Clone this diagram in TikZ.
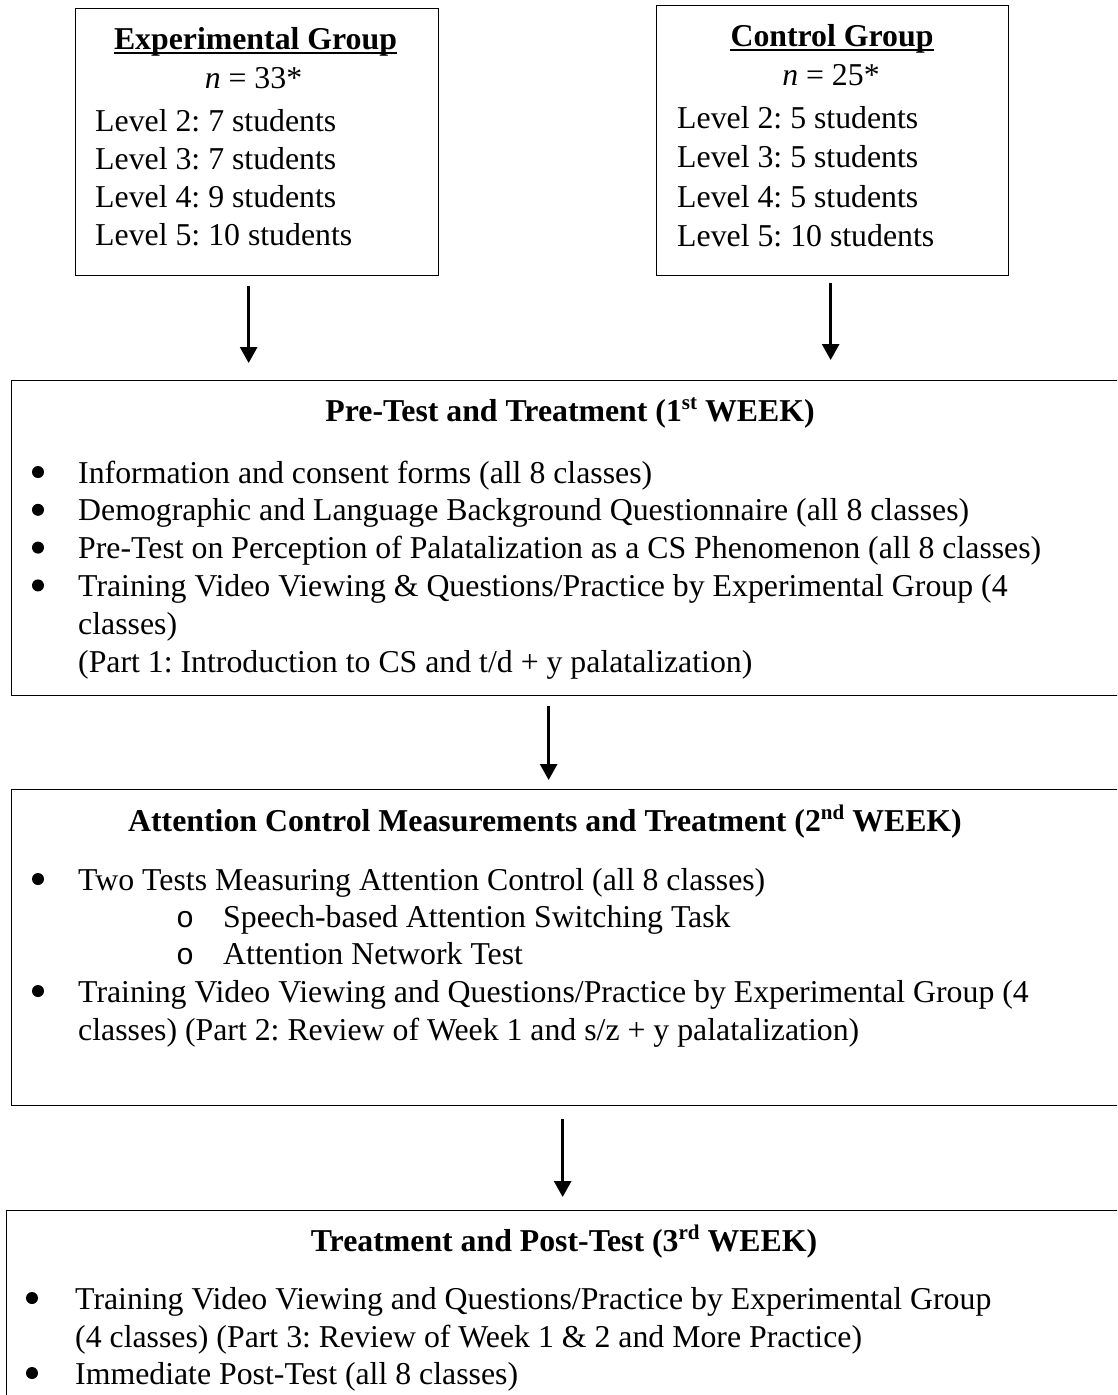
\documentclass[tikz,border=0pt]{standalone}
\usepackage{fontspec}
\setmainfont{Liberation Serif}
\newfontfamily\monofam{Liberation Mono}
\usetikzlibrary{arrows.meta}
\newcommand\bodyfont{\fontsize{31.8pt}{38pt}\selectfont\frenchspacing}
\newcommand\supr[1]{\raisebox{0.36em}{\fontsize{21pt}{21pt}\selectfont #1}}

\tikzset{
  frame/.style={draw=black, line width=1.3pt, inner sep=0pt, anchor=north west},
  txt/.style={inner sep=0pt, anchor=base west, font=\bodyfont},
  ctr/.style={inner sep=0pt, anchor=base, font=\bodyfont},
  ttl/.style={inner sep=0pt, anchor=base, font=\bodyfont\bfseries},
  dot/.style={circle, fill=black, inner sep=0pt, minimum size=12pt, yshift=11pt},
  subblt/.style={inner sep=0pt, anchor=base, font=\fontsize{30pt}{36pt}\monofam},
  uline/.style={line width=2pt},
  arr/.style={line width=3pt, -{Triangle[width=17pt,length=16pt]}}
}

\begin{document}
\begin{tikzpicture}[x=1pt,y=1pt]
\useasboundingbox (0,0) rectangle (1117,-1395);
\clip (0,0) rectangle (1117,-1395);

% ---- frames ----
\node[frame, minimum width=363pt, minimum height=267pt] (eg) at (75,-8) {};
\node[frame, minimum width=352pt, minimum height=270pt] (cg) at (656,-5) {};
\node[frame, minimum width=1119pt, minimum height=315pt] (pre) at (11,-380) {};
\node[frame, minimum width=1119pt, minimum height=316pt] (acm) at (11,-789) {};
\node[frame, minimum width=1124pt, minimum height=215pt] (post) at (6,-1210) {};

% ---- experimental group ----
\node[ttl] (egT) at (255.5,-49) {Experimental Group};
\draw[uline] ([yshift=-4pt]egT.base west) -- ([yshift=-4pt]egT.base east);
\node[ctr] (egN) at (253.5,-88) {\textit{n} = 33*};
\node[txt] (eg2) at (95,-131) {Level 2: 7 students};
\node[txt] (eg3) at (95,-169) {Level 3: 7 students};
\node[txt] (eg4) at (95,-207) {Level 4: 9 students};
\node[txt] (eg5) at (95,-245) {Level 5: 10 students};

% ---- control group ----
\node[ttl] (cgT) at (832,-46) {Control Group};
\draw[uline] ([yshift=-4pt]cgT.base west) -- ([yshift=-4pt]cgT.base east);
\node[ctr] (cgN) at (831,-85) {\textit{n} = 25*};
\node[txt] (cg2) at (677,-128) {Level 2: 5 students};
\node[txt] (cg3) at (677,-167) {Level 3: 5 students};
\node[txt] (cg4) at (677,-207) {Level 4: 5 students};
\node[txt] (cg5) at (677,-246) {Level 5: 10 students};

% ---- week 1 ----
\node[ttl] (preT) at (570,-421) {Pre-Test and Treatment (1\supr{st} WEEK)};
\node[dot] (pb1) at (38,-483) {};
\node[txt] (p1) at (78,-483) {Information and consent forms (all 8 classes)};
\node[dot] (pb2) at (38,-520.8) {};
\node[txt] (p2) at (78,-520.8) {Demographic and Language Background Questionnaire (all 8 classes)};
\node[dot] (pb3) at (38,-558.6) {};
\node[txt] (p3) at (78,-558.6) {Pre-Test on Perception of Palatalization as a CS Phenomenon (all 8 classes)};
\node[dot] (pb4) at (38,-596.4) {};
\node[txt] (p4) at (78,-596.4) {Training Video Viewing \& Questions/Practice by Experimental Group (4};
\node[txt] (p4b) at (78,-634.2) {classes)};
\node[txt] (p4c) at (78,-672) {(Part 1: Introduction to CS and t/d + y palatalization)};

% ---- week 2 ----
\node[ttl] (acmT) at (545,-831) {Attention Control Measurements and Treatment (2\supr{nd} WEEK)};
\node[dot] (ab1) at (38,-890) {};
\node[txt] (a1) at (78,-890) {Two Tests Measuring Attention Control (all 8 classes)};
\node[subblt] (as1) at (185,-927) {o};
\node[txt] (a1a) at (223,-927) {Speech-based Attention Switching Task};
\node[subblt] (as2) at (185,-964) {o};
\node[txt] (a1b) at (223,-964) {Attention Network Test};
\node[dot] (ab2) at (38,-1002) {};
\node[txt] (a2) at (78,-1002) {Training Video Viewing and Questions/Practice by Experimental Group (4};
\node[txt] (a2b) at (78,-1040) {classes) (Part 2: Review of Week 1 and s/z + y palatalization)};

% ---- week 3 ----
\node[ttl] (postT) at (564,-1251) {Treatment and Post-Test (3\supr{rd} WEEK)};
\node[dot] (qb1) at (32,-1309) {};
\node[txt] (q1) at (75,-1309) {Training Video Viewing and Questions/Practice by Experimental Group};
\node[txt] (q1b) at (75,-1347) {(4 classes) (Part 3: Review of Week 1 \& 2 and More Practice)};
\node[dot] (qb2) at (32,-1384) {};
\node[txt] (q2) at (75,-1384) {Immediate Post-Test (all 8 classes)};

% ---- connectors ----
\draw[arr] ([xshift=-8.5pt,yshift=-10pt]eg.south) -- ([xshift=-8.5pt,yshift=17pt]eg.south |- pre.north);
\draw[arr] ([xshift=-2pt,yshift=-7pt]cg.south) -- ([xshift=-2pt,yshift=20pt]cg.south |- pre.north);
\draw[arr] ([xshift=-22.5pt,yshift=-10pt]pre.south) -- ([xshift=-22.5pt,yshift=9pt]pre.south |- acm.north);
\draw[arr] ([xshift=-8.5pt,yshift=-13pt]acm.south) -- ([xshift=-8.5pt,yshift=13pt]acm.south |- post.north);
\end{tikzpicture}
\end{document}
